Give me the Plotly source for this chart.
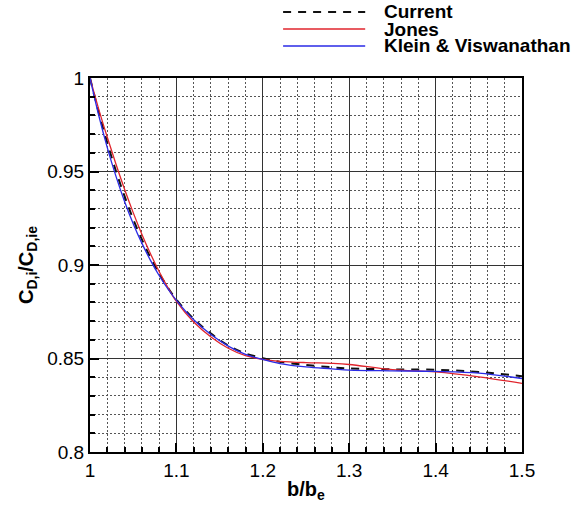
import plotly.graph_objects as go

# Span ratio b/b_e
b_ratio = [1.00, 1.01, 1.02, 1.03, 1.04, 1.05, 1.06, 1.07, 1.08, 1.09, 1.10,
           1.12, 1.14, 1.16, 1.18, 1.20, 1.22, 1.25, 1.28, 1.30, 1.35, 1.40,
           1.45, 1.50]

# Induced drag ratio C_D,i / C_D,ie for each method
current = [1.000, 0.9818, 0.9654, 0.9503, 0.9368, 0.9245, 0.9137, 0.9040,
           0.8955, 0.8880, 0.8815, 0.8712, 0.8633, 0.8570, 0.8527, 0.8502,
           0.8482, 0.8465, 0.8453, 0.8447, 0.8442, 0.8440, 0.8428, 0.8405]
jones = [1.000, 0.9835, 0.9683, 0.9540, 0.9405, 0.9280, 0.9165, 0.9060,
         0.8965, 0.8880, 0.8805, 0.8695, 0.8615, 0.8555, 0.8515, 0.8495,
         0.8485, 0.8478, 0.8474, 0.8468, 0.8440, 0.8428, 0.8402, 0.8367]
klein = [1.000, 0.9802, 0.9628, 0.9475, 0.9340, 0.9221, 0.9117, 0.9025,
         0.8944, 0.8873, 0.8811, 0.8707, 0.8628, 0.8566, 0.8522, 0.8495,
         0.8473, 0.8455, 0.8445, 0.8438, 0.8434, 0.8431, 0.8422, 0.8393]

series_names = ["Current", "Jones", "Klein & Viswanathan"]

x_ticks = [1.0, 1.1, 1.2, 1.3, 1.4, 1.5]
x_tick_text = ["1", "1.1", "1.2", "1.3", "1.4", "1.5"]
y_ticks = [0.80, 0.85, 0.90, 0.95, 1.00]
y_tick_text = ["0.8", "0.85", "0.9", "0.95", "1"]

font_family = "Liberation Sans, Arial, sans-serif"
line_styles = [
    dict(color="#111111", width=2, dash="8px,7px"),
    dict(color="#e0242c", width=1.3),
    dict(color="#2a2ae6", width=1.3),
]

fig = go.Figure()
for name, values, style in zip(series_names, [current, jones, klein], line_styles):
    fig.add_trace(go.Scatter(x=b_ratio, y=values, mode="lines", name=name,
                             line=style, showlegend=False, line_shape="spline"))

# Compact key above the plot: line sample plus bold label for each series
key_rows = [1.1765, 1.131, 1.0856]
for name, style, ky in zip(series_names, line_styles, key_rows):
    fig.add_shape(type="line", xref="paper", yref="paper",
                  x0=0.447, x1=0.637, y0=ky, y1=ky, line=style)
    fig.add_annotation(xref="paper", yref="paper", x=0.676, y=ky,
                       xanchor="left", yanchor="middle", showarrow=False,
                       text=f"<b>{name.replace('&', '&amp;')}</b>",
                       font=dict(family=font_family, size=19, color="black"))

axis_common = dict(
    showline=True, linecolor="black", linewidth=2, mirror=True,
    ticks="inside", ticklen=9, tickwidth=1.5, tickcolor="black",
    showgrid=True, gridcolor="#333333", gridwidth=1,
    zeroline=False,
    tickfont=dict(family=font_family, size=19, color="black"),
)

fig.update_xaxes(
    range=[1.0, 1.5], tickvals=x_ticks, ticktext=x_tick_text,
    minor=dict(dtick=0.02, tick0=1.0, ticks="inside", ticklen=5, tickcolor="black",
               showgrid=True, gridcolor="#555555", griddash="2px,2px", gridwidth=1),
    title=dict(text="<b>b/b<sub>e</sub></b>", standoff=2,
               font=dict(family=font_family, size=20, color="black")),
    **axis_common,
)
fig.update_yaxes(
    range=[0.8, 1.0], tickvals=y_ticks, ticktext=y_tick_text,
    minor=dict(dtick=0.01, tick0=0.8, ticks="inside", ticklen=5, tickcolor="black",
               showgrid=True, gridcolor="#555555", griddash="2px,2px", gridwidth=1),
    title=dict(text="<b>C<sub>D,i</sub>/C<sub>D,ie</sub></b>", standoff=8,
               font=dict(family=font_family, size=20, color="black")),
    **axis_common,
)

fig.update_layout(
    width=584, height=508,
    margin=dict(l=90, r=62, t=78, b=56, autoexpand=False),
    paper_bgcolor="white", plot_bgcolor="white",
    showlegend=False,
)

fig.write_html("out.html")
